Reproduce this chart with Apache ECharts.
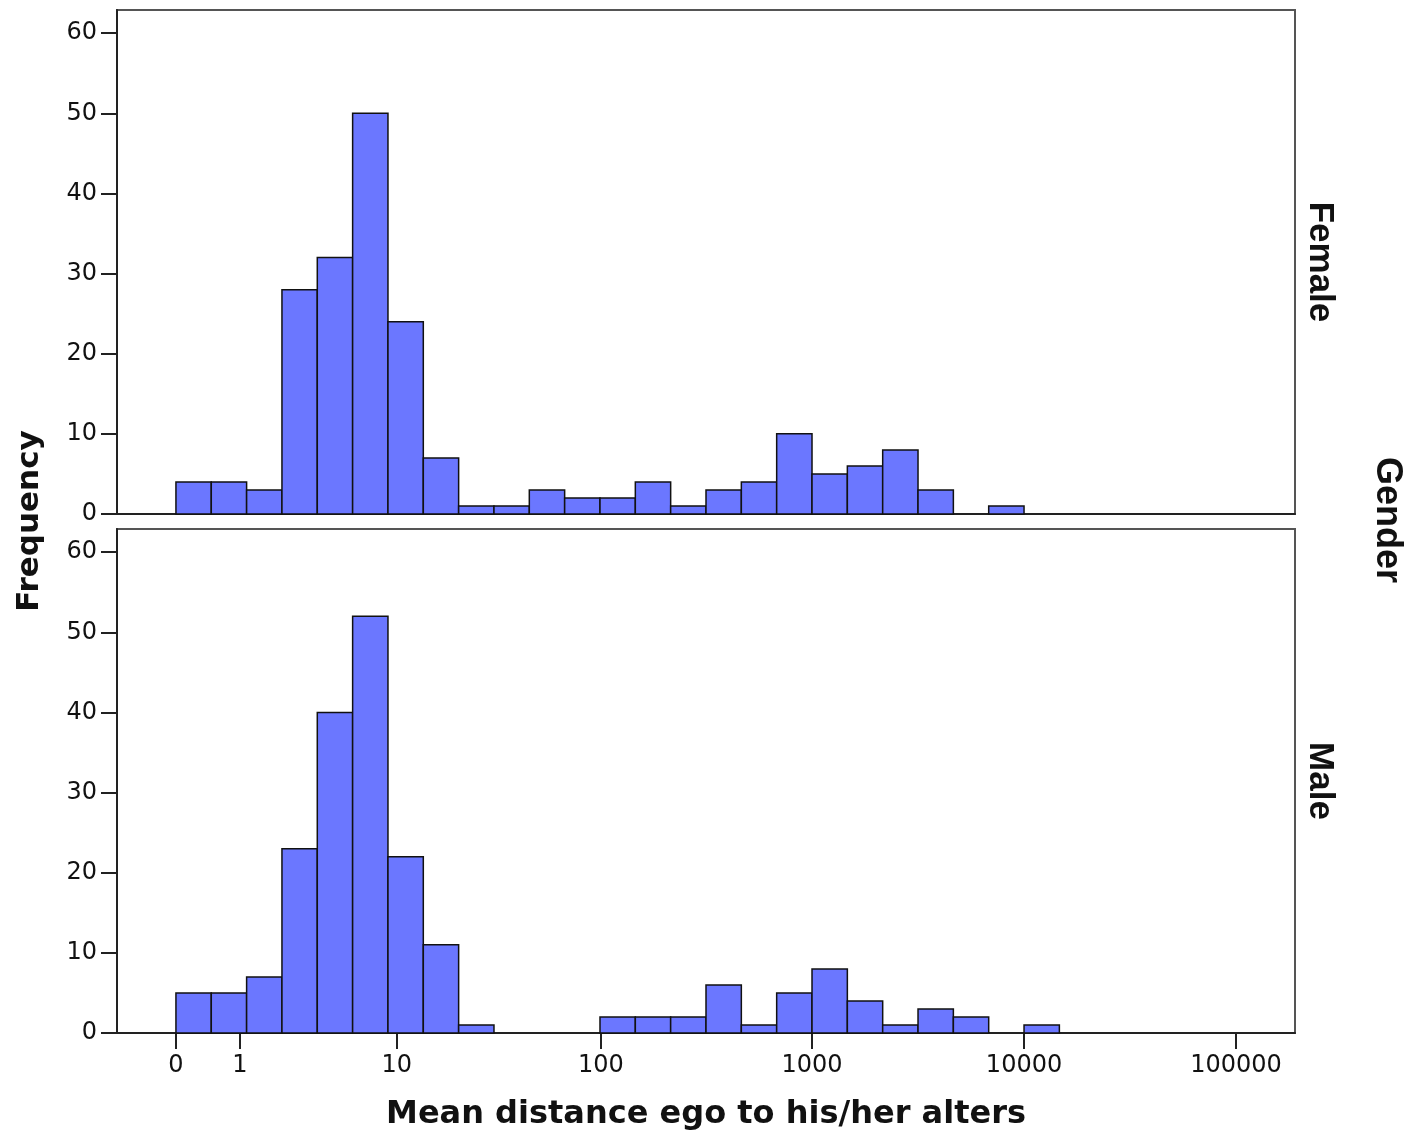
<!DOCTYPE html>
<html>
<head>
<meta charset="utf-8">
<script src="https://cdn.jsdelivr.net/npm/echarts@6/dist/echarts.min.js"></script>
<style>
  html, body { margin: 0; padding: 0; background: #fff; }
  #chart { width: 1409px; height: 1135px; }
</style>
</head>
<body>
<div id="chart"></div>
<script>
// bins are 1/6 of a decade wide on a log10(x + 1) scale, starting at 0
var binWidth = 1 / 6;
var femaleCounts = [4, 4, 3, 28, 32, 50, 24, 7, 1, 1, 3, 2, 2, 4, 1, 3, 4, 10, 5, 6, 8, 3, 0, 1];
var maleCounts = [5, 5, 7, 23, 40, 52, 22, 11, 1, 0, 0, 0, 2, 2, 2, 6, 1, 5, 8, 4, 1, 3, 2, 0, 1];
var xTickLabels = [0, 1, 10, 100, 1000, 10000, 100000];
var yTickLabels = [0, 10, 20, 30, 40, 50, 60];

function toBins(counts) {
  var out = [];
  counts.forEach(function (c, i) {
    if (c > 0) out.push([i * binWidth, (i + 1) * binWidth, c]);
  });
  return out;
}

var xTickPos = xTickLabels.map(function (v) { return Math.log10(v + 1); });

function renderBin(params, api) {
  var topLeft = api.coord([api.value(0), api.value(2)]);
  var bottomRight = api.coord([api.value(1), 0]);
  return {
    type: 'rect',
    shape: {
      x: topLeft[0],
      y: topLeft[1],
      width: bottomRight[0] - topLeft[0],
      height: bottomRight[1] - topLeft[1]
    },
    style: { fill: '#6B77FF', stroke: '#111', lineWidth: 1.5 }
  };
}

var tickFont = { color: '#111', fontSize: 24, fontFamily: 'DejaVu Sans' };

function makeX(gridIndex, withLabels) {
  return {
    type: 'value',
    gridIndex: gridIndex,
    min: -0.278,
    max: 5.278,
    splitLine: { show: false },
    axisLine: { show: true, onZero: false, lineStyle: { color: '#222', width: 2 } },
    axisTick: { show: withLabels, length: 16, customValues: xTickPos, lineStyle: { color: '#222', width: 2 } },
    axisLabel: Object.assign({
      show: withLabels,
      margin: 21,
      customValues: xTickPos,
      formatter: function (v) { return String(Math.round(Math.pow(10, v) - 1)); }
    }, tickFont),
    name: withLabels ? 'Mean distance ego to his/her alters' : '',
    nameLocation: 'middle',
    nameGap: 66,
    nameTextStyle: { fontSize: 32, fontWeight: 'bold', fontFamily: 'DejaVu Sans', color: '#111' }
  };
}

function makeY(gridIndex) {
  return {
    type: 'value',
    gridIndex: gridIndex,
    min: 0,
    max: 62.9,
    splitLine: { show: false },
    axisLine: { show: true, onZero: false, lineStyle: { color: '#222', width: 2 } },
    axisTick: { show: true, length: 16, customValues: yTickLabels, lineStyle: { color: '#222', width: 2 } },
    axisLabel: Object.assign({ margin: 20, customValues: yTickLabels }, tickFont)
  };
}

var chart = echarts.init(document.getElementById('chart'));
chart.setOption({
  backgroundColor: '#fff',
  animation: false,
  grid: [
    { left: 117, right: 114, top: 10, height: 504, show: true, borderColor: '#555', borderWidth: 2 },
    { left: 117, right: 114, top: 529, height: 504, show: true, borderColor: '#555', borderWidth: 2 }
  ],
  xAxis: [makeX(0, false), makeX(1, true)],
  yAxis: [makeY(0), makeY(1)],
  graphic: [
    { type: 'text', x: 30, y: 521, rotation: Math.PI / 2,
      style: { text: 'Frequency', fontSize: 31, fontWeight: 'bold', fontFamily: 'DejaVu Sans', fill: '#111', align: 'center', verticalAlign: 'middle' } },
    { type: 'text', x: 1320, y: 262, rotation: -Math.PI / 2,
      style: { text: 'Female', fontSize: 35, fontWeight: 'bold', fontFamily: 'Liberation Sans', fill: '#111', align: 'center', verticalAlign: 'middle' } },
    { type: 'text', x: 1320, y: 781, rotation: -Math.PI / 2,
      style: { text: 'Male', fontSize: 35, fontWeight: 'bold', fontFamily: 'Liberation Sans', fill: '#111', align: 'center', verticalAlign: 'middle' } },
    { type: 'text', x: 1387, y: 520, rotation: -Math.PI / 2,
      style: { text: 'Gender', fontSize: 36, fontWeight: 'bold', fontFamily: 'Liberation Sans', fill: '#111', align: 'center', verticalAlign: 'middle' } }
  ],
  series: [
    { name: 'Female', type: 'custom', xAxisIndex: 0, yAxisIndex: 0, renderItem: renderBin,
      encode: { x: [0, 1], y: 2 }, data: toBins(femaleCounts) },
    { name: 'Male', type: 'custom', xAxisIndex: 1, yAxisIndex: 1, renderItem: renderBin,
      encode: { x: [0, 1], y: 2 }, data: toBins(maleCounts) }
  ]
});
</script>
</body>
</html>
